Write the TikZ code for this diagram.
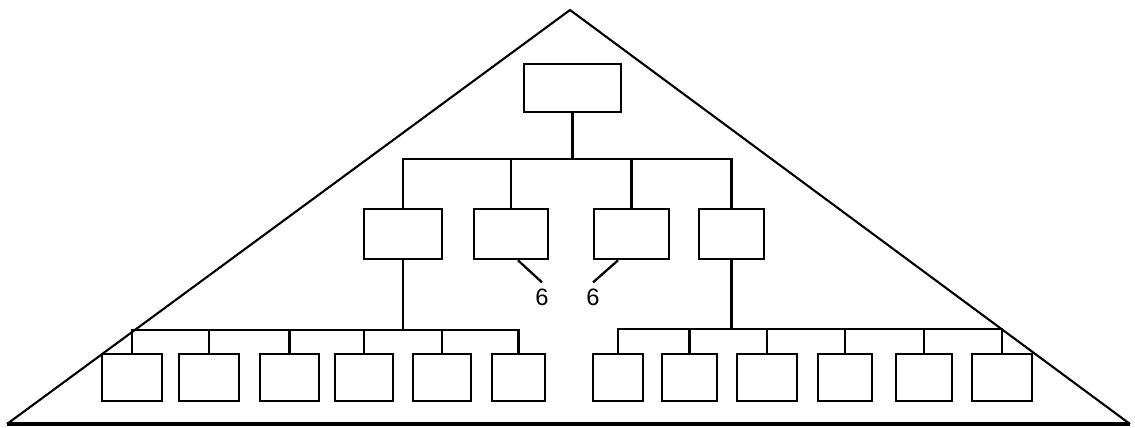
\documentclass[tikz,border=0pt]{standalone}
\usepackage{fontspec}
\setmainfont{Liberation Sans}
\usetikzlibrary{positioning,calc}

\begin{document}
\begin{tikzpicture}[
    x=0.02cm, y=-0.02cm,
    unit/.style={rectangle, draw, line width=1.5pt, minimum width=#1*0.02cm, inner sep=0pt},
    top unit/.style={unit=#1, minimum height=0.96cm},
    mid unit/.style={unit=#1, minimum height=1.0cm},
    low unit/.style={unit=#1, minimum height=0.94cm},
    link/.style={draw, line width=1.3pt},
    num/.style={font=\fontsize{13.5}{15}\selectfont}
]
    \useasboundingbox (0,0) rectangle (1135,427);

    % outer triangle
    \coordinate (apex) at (570,10);
    \coordinate (baseL) at (7,424);
    \coordinate (baseR) at (1130,424);
    \draw[line width=1.2pt, line join=round] (baseL) -- (apex) -- (baseR);
    \draw[line width=2.2pt] (baseL) -- (baseR);

    % top level
    \node[top unit=97] (top) at (572.5,88) {};

    % middle level
    \node[mid unit=78] (m1) at (403,234) {};
    \node[mid unit=74] (m2) at (511,234) {};
    \node[mid unit=75] (m3) at (631.5,234) {};
    \node[mid unit=65] (m4) at (731.5,234) {};

    % bottom level, left group
    \node[low unit=60] (b1) at (132,377.5) {};
    \node[low unit=60] (b2) at (209,377.5) {};
    \node[low unit=59] (b3) at (289.5,377.5) {};
    \node[low unit=58] (b4) at (364,377.5) {};
    \node[low unit=58] (b5) at (442,377.5) {};
    \node[low unit=53] (b6) at (518.5,377.5) {};

    % bottom level, right group
    \node[low unit=50] (c1) at (618,377.5) {};
    \node[low unit=55] (c2) at (689.5,377.5) {};
    \node[low unit=60] (c3) at (767,377.5) {};
    \node[low unit=54] (c4) at (845,377.5) {};
    \node[low unit=56] (c5) at (924,377.5) {};
    \node[low unit=60] (c6) at (1002,377.5) {};

    % bus levels
    \coordinate (hub) at (0,159);
    \coordinate (lhub) at (0,330);
    \coordinate (rhub) at (0,329);

    % top to middle
    \draw[link] (top.south) -- (top.south |- hub);
    \draw[link] (m1.north) -- (m1.north |- hub) -| (m4.north);
    \draw[link] (m2.north) -- (m2.north |- hub);
    \draw[link] (m3.north) -- (m3.north |- hub);

    % middle to bottom, left
    \draw[link] (m1.south) -- (m1.south |- lhub);
    \draw[link] (b1.north) -- (b1.north |- lhub) -| (b6.north);
    \draw[link] (b2.north) -- (b2.north |- lhub);
    \draw[link] (b3.north) -- (b3.north |- lhub);
    \draw[link] (b4.north) -- (b4.north |- lhub);
    \draw[link] (b5.north) -- (b5.north |- lhub);

    % middle to bottom, right
    \draw[link] (m4.south) -- (m4.south |- rhub);
    \draw[link] (c1.north) -- (c1.north |- rhub) -| (c6.north);
    \draw[link] (c2.north) -- (c2.north |- rhub);
    \draw[link] (c3.north) -- (c3.north |- rhub);
    \draw[link] (c4.north) -- (c4.north |- rhub);
    \draw[link] (c5.north) -- (c5.north |- rhub);

    % labels
    \node[num] (n6a) at (542,297) {6};
    \node[num] (n6b) at (593,297) {6};
    \draw[link] ([xshift=0.14cm]m2.south) -- (n6a.north);
    \draw[link] ([xshift=-0.27cm]m3.south) -- (n6b.north);
\end{tikzpicture}
\end{document}
